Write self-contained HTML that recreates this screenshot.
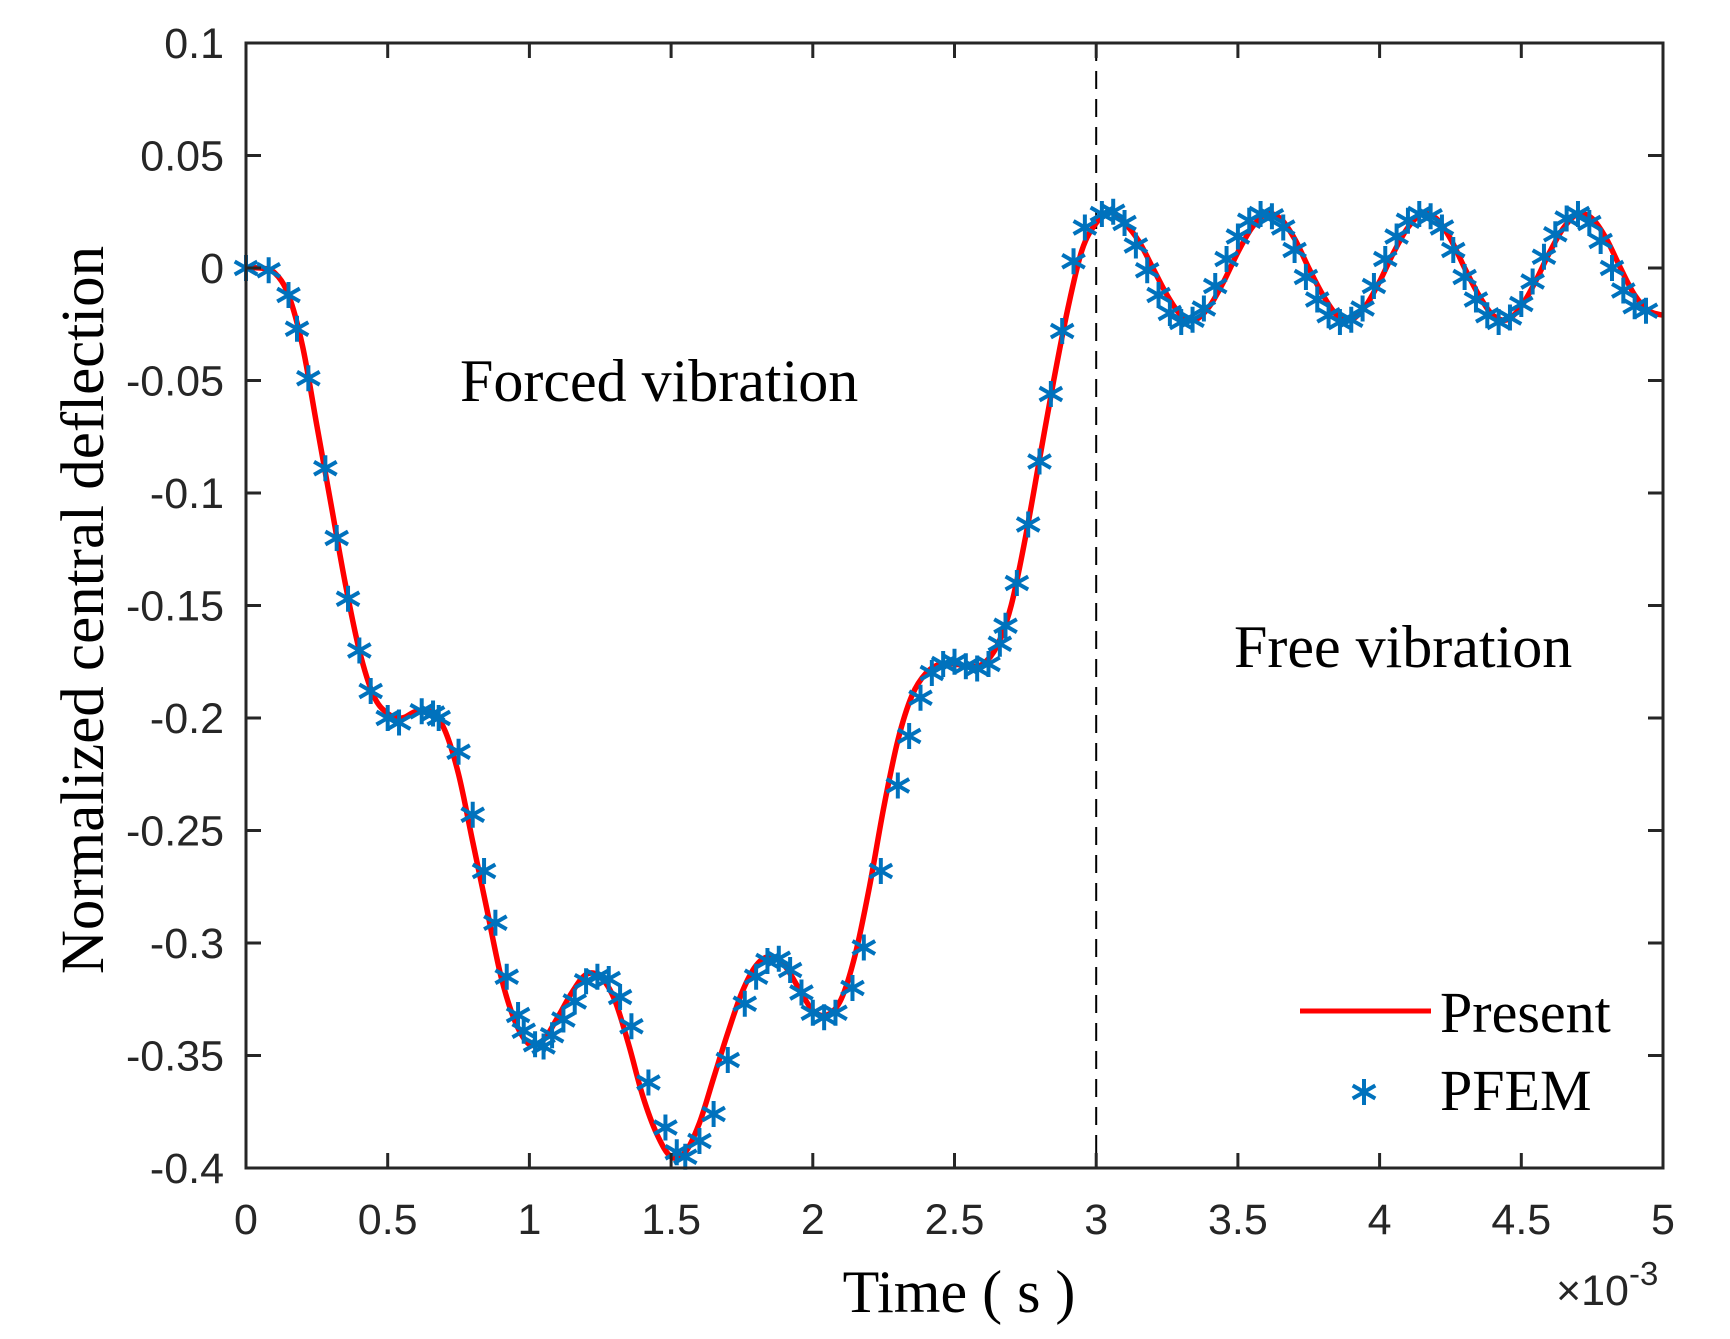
<!DOCTYPE html>
<html><head><meta charset="utf-8"><style>
html,body{margin:0;padding:0;background:#fff;}
svg{display:block;}
.tick{font-family:"Liberation Sans",Arial,sans-serif;font-size:43px;fill:#262626;}
.serif{font-family:"Liberation Serif","Times New Roman",serif;fill:#000;}
</style></head><body>
<svg id="chart" width="1730" height="1339" viewBox="0 0 1730 1339" xmlns="http://www.w3.org/2000/svg">
<g id="grid"></g>
<g id="series"></g>
<rect x="246" y="43" width="1417" height="1125" fill="none" stroke="#262626" stroke-width="3"/>
<g id="ticks"></g>
<text class="serif" font-size="61" text-anchor="middle" transform="translate(103,610) rotate(-90)">Normalized central deflection</text>
<text class="serif" font-size="60" text-anchor="middle" x="959" y="1312">Time ( s )</text>
<text class="tick" font-size="44" x="1556" y="1305"><tspan>×10</tspan><tspan font-size="33" dy="-20">-3</tspan></text>
<text class="serif" font-size="60" x="460" y="401">Forced vibration</text>
<text class="serif" font-size="60" x="1234" y="667">Free vibration</text>
<g>
<line x1="1300" y1="1011" x2="1431" y2="1011" stroke="#ff0000" stroke-width="5"/>
<text class="serif" font-size="58" x="1440" y="1032">Present</text>
<g id="legend-star"></g>
<text class="serif" font-size="58" x="1440" y="1110">PFEM</text>
</g>
</svg>
<script>
const timeMs=[0,0.05,0.1,0.15,0.2,0.25,0.3,0.35,0.4,0.45,0.5,0.55,0.6,0.65,0.7,0.75,0.8,0.85,0.9,0.95,1.0,1.05,1.1,1.15,1.2,1.25,1.3,1.35,1.4,1.45,1.5,1.55,1.6,1.65,1.7,1.75,1.8,1.85,1.9,1.95,2.0,2.05,2.1,2.15,2.2,2.25,2.3,2.35,2.4,2.45,2.5,2.55,2.6,2.65,2.7,2.75,2.8,2.85,2.9,2.95,3.0,3.05,3.1,3.15,3.2,3.25,3.3,3.35,3.4,3.45,3.5,3.55,3.6,3.65,3.7,3.75,3.8,3.85,3.9,3.95,4.0,4.05,4.1,4.15,4.2,4.25,4.3,4.35,4.4,4.45,4.5,4.55,4.6,4.65,4.7,4.75,4.8,4.85,4.9,4.95,5.0];
const presentValues=[0,0,-0.002,-0.012,-0.035,-0.07,-0.105,-0.14,-0.17,-0.19,-0.198,-0.2,-0.197,-0.197,-0.205,-0.225,-0.255,-0.285,-0.315,-0.335,-0.345,-0.343,-0.333,-0.322,-0.314,-0.315,-0.325,-0.345,-0.368,-0.385,-0.395,-0.393,-0.38,-0.36,-0.34,-0.322,-0.31,-0.306,-0.31,-0.32,-0.33,-0.332,-0.325,-0.305,-0.275,-0.24,-0.21,-0.19,-0.18,-0.176,-0.176,-0.177,-0.176,-0.168,-0.15,-0.12,-0.085,-0.05,-0.018,0.008,0.02,0.025,0.02,0.012,0.0,-0.012,-0.021,-0.023,-0.017,-0.006,0.007,0.018,0.024,0.022,0.013,0.0,-0.012,-0.021,-0.023,-0.017,-0.006,0.007,0.018,0.024,0.022,0.013,0.0,-0.012,-0.021,-0.023,-0.017,-0.006,0.007,0.018,0.024,0.022,0.013,0.0,-0.012,-0.019,-0.021];
const pfemTime=[0,0.08,0.15,0.18,0.22,0.28,0.32,0.36,0.4,0.44,0.5,0.54,0.62,0.66,0.68,0.75,0.8,0.84,0.88,0.92,0.96,0.98,1.02,1.05,1.08,1.12,1.16,1.2,1.24,1.28,1.32,1.36,1.42,1.48,1.52,1.55,1.6,1.65,1.7,1.76,1.8,1.84,1.88,1.92,1.96,2.0,2.04,2.08,2.14,2.18,2.24,2.3,2.34,2.38,2.42,2.46,2.5,2.54,2.58,2.62,2.66,2.68,2.72,2.76,2.8,2.84,2.88,2.92,2.96,3.02,3.06,3.1,3.14,3.18,3.22,3.26,3.3,3.34,3.38,3.42,3.46,3.5,3.54,3.58,3.62,3.66,3.7,3.74,3.78,3.82,3.86,3.9,3.94,3.98,4.02,4.06,4.1,4.14,4.18,4.22,4.26,4.3,4.34,4.38,4.42,4.46,4.5,4.54,4.58,4.62,4.66,4.7,4.74,4.78,4.82,4.86,4.9,4.94];
const pfemValues=[0,-0.001,-0.012,-0.027,-0.049,-0.089,-0.12,-0.147,-0.17,-0.188,-0.2,-0.202,-0.197,-0.198,-0.2,-0.215,-0.243,-0.268,-0.291,-0.315,-0.332,-0.339,-0.345,-0.346,-0.341,-0.334,-0.326,-0.317,-0.315,-0.316,-0.324,-0.337,-0.362,-0.382,-0.393,-0.395,-0.388,-0.376,-0.352,-0.327,-0.315,-0.308,-0.307,-0.312,-0.322,-0.331,-0.333,-0.331,-0.32,-0.302,-0.268,-0.23,-0.208,-0.191,-0.18,-0.176,-0.175,-0.177,-0.178,-0.176,-0.167,-0.159,-0.14,-0.114,-0.086,-0.056,-0.028,0.003,0.018,0.024,0.025,0.02,0.01,-0.001,-0.012,-0.02,-0.024,-0.023,-0.018,-0.008,0.004,0.014,0.021,0.024,0.023,0.018,0.008,-0.004,-0.014,-0.021,-0.024,-0.023,-0.018,-0.008,0.004,0.014,0.021,0.024,0.023,0.018,0.008,-0.004,-0.014,-0.021,-0.024,-0.022,-0.016,-0.006,0.005,0.015,0.022,0.024,0.02,0.012,0.0,-0.01,-0.017,-0.019];
const xTicks=[0,0.5,1,1.5,2,2.5,3,3.5,4,4.5,5];
const xTickLabels=["0","0.5","1","1.5","2","2.5","3","3.5","4","4.5","5"];
const yTicks=[0.1,0.05,0,-0.05,-0.1,-0.15,-0.2,-0.25,-0.3,-0.35,-0.4];
const yTickLabels=["0.1","0.05","0","-0.05","-0.1","-0.15","-0.2","-0.25","-0.3","-0.35","-0.4"];
const dividerTime=3;

const L=246,R=1663,T=43,B=1168;
const xs=t=>L+(t-0)/5*(R-L);
const ys=v=>T+(0.1-v)/0.5*(B-T);
const NS="http://www.w3.org/2000/svg";
function mk(tag,attrs,parent){const e=document.createElementNS(NS,tag);for(const k in attrs)e.setAttribute(k,attrs[k]);parent.appendChild(e);return e;}
const ticks=document.getElementById('ticks'),series=document.getElementById('series');
xTicks.forEach((t,i)=>{
  const x=xs(t);
  const a=mk('line',{x1:x,y1:B,x2:x,y2:B-15,stroke:'#262626','stroke-width':3},ticks);
  
  
  const b=mk('line',{x1:x,y1:T,x2:x,y2:T+15,stroke:'#262626','stroke-width':3},ticks);
  
  
  const tx=mk('text',{x:x,y:B+66,'text-anchor':'middle',class:'tick'},ticks);
  tx.textContent=xTickLabels[i];
  
  
});
yTicks.forEach((v,i)=>{
  const y=ys(v);
  const a=mk('line',{x1:L,y1:y,x2:L+15,y2:y,stroke:'#262626','stroke-width':3},ticks);
  
  
  const b=mk('line',{x1:R,y1:y,x2:R-15,y2:y,stroke:'#262626','stroke-width':3},ticks);
  
  
  const tx=mk('text',{x:224,y:y+15,'text-anchor':'end',class:'tick'},ticks);
  tx.textContent=yTickLabels[i];
  
  
});
const dv=mk('line',{x1:xs(dividerTime),y1:T,x2:xs(dividerTime),y2:B,stroke:'#000','stroke-width':2,'stroke-dasharray':'18,10'},series);


const P=timeMs.map((t,i)=>[xs(t),ys(presentValues[i])]);
let d='M'+P[0][0]+','+P[0][1];
for(let i=0;i<P.length-1;i++){
  const p0=P[Math.max(0,i-1)],p1=P[i],p2=P[i+1],p3=P[Math.min(P.length-1,i+2)];
  d+=' C'+(p1[0]+(p2[0]-p0[0])/6)+','+(p1[1]+(p2[1]-p0[1])/6)+' '+(p2[0]-(p3[0]-p1[0])/6)+','+(p2[1]-(p3[1]-p1[1])/6)+' '+p2[0]+','+p2[1];
}
const line=mk('path',{d:d,fill:'none',stroke:'#ff0000','stroke-width':5.5,'stroke-linejoin':'round'},series);


function star(cx,cy,parent){
  const g=mk('g',{stroke:'#0072BD','stroke-width':4,'stroke-linecap':'butt'},parent);
  const r=13;
  mk('line',{x1:cx,y1:cy-r,x2:cx,y2:cy+r},g);
  mk('line',{x1:cx-r*0.87,y1:cy-r*0.5,x2:cx+r*0.87,y2:cy+r*0.5},g);
  mk('line',{x1:cx-r*0.87,y1:cy+r*0.5,x2:cx+r*0.87,y2:cy-r*0.5},g);
  return g;
}
pfemTime.forEach((t,i)=>{
  if(pfemValues[i]===undefined) return;
  const g=star(xs(t),ys(pfemValues[i]),series);
  
  
});
const ls=star(1364,1092,document.getElementById('legend-star'));


</script>
</body></html>
